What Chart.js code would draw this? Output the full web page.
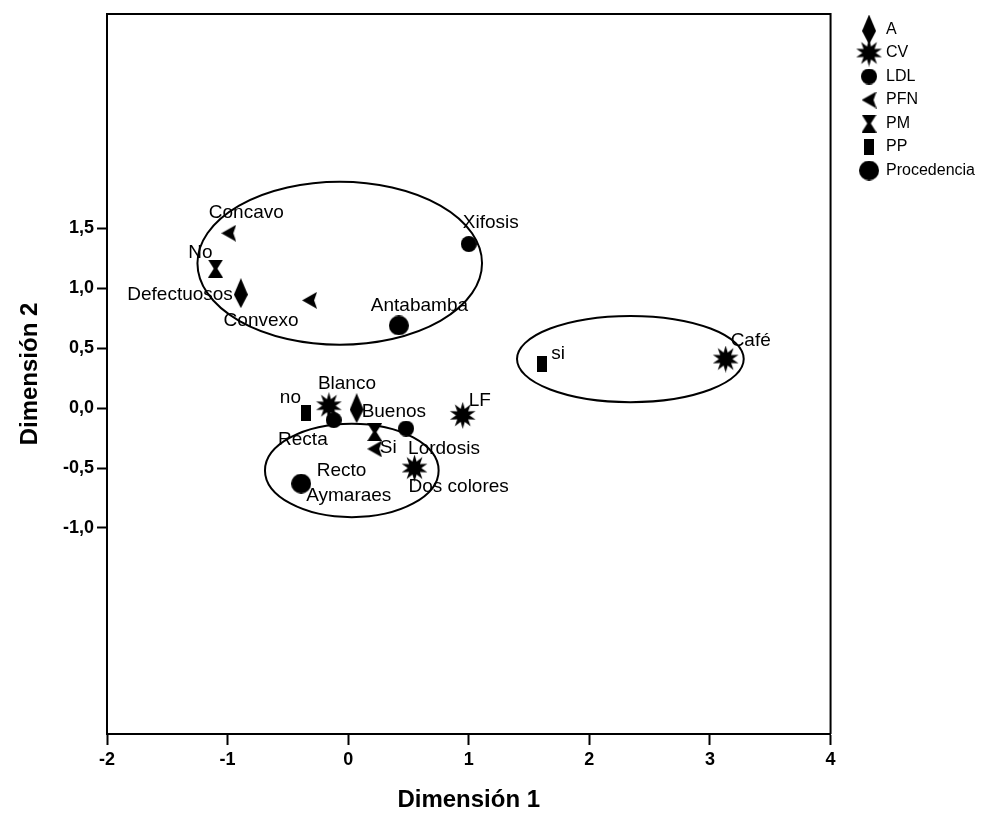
<!DOCTYPE html>
<html><head><meta charset="utf-8">
<script src="https://cdn.jsdelivr.net/npm/chart.js@4.4.0/dist/chart.umd.min.js"></script>
<style>html,body{margin:0;padding:0;background:#fff;}#wrap{width:1000px;height:815px;}</style>
</head><body><div id="wrap"><canvas id="c" width="1000" height="815"></canvas></div>
<script>
// ---- data ----
const seriesNames = ['A', 'CV', 'LDL', 'PFN', 'PM', 'PP', 'Procedencia'];

const A_labels = ['Defectuosos', 'Buenos'];
const A_x = [-0.89, 0.07];
const A_y = [0.96, 0.00];

const CV_labels = ['Blanco', 'LF', 'Dos colores', 'Café'];
const CV_x = [-0.16, 0.95, 0.55, 3.13];
const CV_y = [0.02, -0.06, -0.50, 0.41];

const LDL_labels = ['Xifosis', 'Recta', 'Lordosis'];
const LDL_x = [1.00, -0.12, 0.48];
const LDL_y = [1.37, -0.10, -0.17];

const PFN_labels = ['Concavo', 'Convexo', 'Recto'];
const PFN_x = [-0.99, -0.32, 0.22];
const PFN_y = [1.46, 0.90, -0.34];

const PM_labels = ['No', 'Si'];
const PM_x = [-1.10, 0.22];
const PM_y = [1.165, -0.20];

const PP_labels = ['no', 'si'];
const PP_x = [-0.35, 1.61];
const PP_y = [-0.04, 0.37];

const Proc_labels = ['Antabamba', 'Aymaraes'];
const Proc_x = [0.42, -0.39];
const Proc_y = [0.69, -0.63];

const xTickValues = [-2, -1, 0, 1, 2, 3, 4];
const yTickValues = [-1, -0.5, 0, 0.5, 1, 1.5];

// grouping ellipses (data units)
const ellipseCx = [-0.07, 2.34, 0.03];
const ellipseCy = [1.21, 0.41, -0.52];
const ellipseRx = [1.18, 0.94, 0.72];
const ellipseRy = [0.68, 0.36, 0.39];

// ---- label placement (pixel offsets from point, alignment) ----
const labelPlacement = {
  'Defectuosos': [-8, 2, 'right'], 'Buenos': [5, 4, 'left'],
  'Blanco': [-11, -22, 'left'], 'LF': [6, -15, 'left'], 'Dos colores': [-6, 19, 'left'], 'Café': [5, -18, 'left'],
  'Xifosis': [-6, -21, 'left'], 'Recta': [-6, 20, 'right'], 'Lordosis': [2, 20, 'left'],
  'Concavo': [-20, -20, 'left'], 'Convexo': [-86, 20, 'left'], 'Recto': [-58, 22, 'left'],
  'No': [-3, -16, 'right'], 'Si': [5, 16, 'left'],
  'no': [-5, -15, 'right'], 'si': [9, -10, 'left'],
  'Antabamba': [-28, -20, 'left'], 'Aymaraes': [5, 12, 'left']
};

// ---- marker images ----
function mk(w, h, draw) {
  const c = document.createElement('canvas'); c.width = w; c.height = h;
  const g = c.getContext('2d'); g.fillStyle = '#000'; g.beginPath(); draw(g, w, h); g.fill(); return c;
}
const mDiamond = mk(14, 30, (g, w, h) => { g.moveTo(w/2, 0); g.lineTo(w, h*0.55); g.lineTo(w/2, h); g.lineTo(0, h*0.55); g.closePath(); });
const mBurst = mk(27, 27, (g, w, h) => {
  const n = 10, ro = w/2, ri = w/2*0.5;
  for (let i = 0; i < n*2; i++) { const r = i % 2 ? ri : ro; const a = Math.PI*i/n - Math.PI/2;
    const px = w/2 + r*Math.cos(a), py = h/2 + r*Math.sin(a); i ? g.lineTo(px, py) : g.moveTo(px, py); }
  g.closePath();
});
const mCircleS = mk(16, 16, (g, w, h) => { g.arc(w/2, h/2, w/2, 0, Math.PI*2); });
const mTriLeft = mk(15, 17, (g, w, h) => { g.moveTo(0, h/2); g.lineTo(w, 0); g.lineTo(w*0.8, h/2); g.lineTo(w, h); g.closePath(); });
const mHour = mk(15, 18, (g, w, h) => { g.moveTo(0, 0); g.lineTo(w, 0); g.lineTo(w*0.62, h/2); g.lineTo(w, h); g.lineTo(0, h); g.lineTo(w*0.38, h/2); g.closePath(); });
const mRect = mk(10, 16, (g, w, h) => { g.rect(0, 0, w, h); });
const mCircleL = mk(20, 20, (g, w, h) => { g.arc(w/2, h/2, w/2, 0, Math.PI*2); });

function pts(xs, ys, labels) { return xs.map((x, i) => ({x: x, y: ys[i], label: labels[i]})); }
function ds(name, xs, ys, labels, style) {
  return { label: name, data: pts(xs, ys, labels), pointStyle: style, backgroundColor: '#000', borderColor: '#000',
           pointRadius: 10, pointHoverRadius: 10, showLine: false };
}

const datasets = [
  ds(seriesNames[0], A_x, A_y, A_labels, mDiamond),
  ds(seriesNames[1], CV_x, CV_y, CV_labels, mBurst),
  ds(seriesNames[2], LDL_x, LDL_y, LDL_labels, mCircleS),
  ds(seriesNames[3], PFN_x, PFN_y, PFN_labels, mTriLeft),
  ds(seriesNames[4], PM_x, PM_y, PM_labels, mHour),
  ds(seriesNames[5], PP_x, PP_y, PP_labels, mRect),
  ds(seriesNames[6], Proc_x, Proc_y, Proc_labels, mCircleL)
];

const extras = {
  id: 'extras',
  beforeDatasetsDraw(chart) {
    const {ctx, scales: {x, y}} = chart;
    ctx.save(); ctx.strokeStyle = '#000'; ctx.lineWidth = 2;
    for (let i = 0; i < ellipseCx.length; i++) {
      const cx = x.getPixelForValue(ellipseCx[i]), cy = y.getPixelForValue(ellipseCy[i]);
      const rx = Math.abs(x.getPixelForValue(ellipseCx[i] + ellipseRx[i]) - cx);
      const ry = Math.abs(y.getPixelForValue(ellipseCy[i] + ellipseRy[i]) - cy);
      ctx.beginPath(); ctx.ellipse(cx, cy, rx, ry, 0, 0, Math.PI*2); ctx.stroke();
    }
    ctx.restore();
  },
  afterDatasetsDraw(chart) {
    const {ctx, chartArea: a} = chart;
    ctx.save();
    ctx.font = '19px "Liberation Sans", Arial, sans-serif'; ctx.fillStyle = '#000'; ctx.textBaseline = 'middle';
    chart.data.datasets.forEach((d, di) => {
      const meta = chart.getDatasetMeta(di);
      meta.data.forEach((el, i) => {
        const lab = d.data[i].label; const p = labelPlacement[lab] || [6, -12, 'left'];
        ctx.textAlign = p[2]; ctx.fillText(lab, el.x + p[0], el.y + p[1]);
      });
    });
    ctx.strokeStyle = '#000'; ctx.lineWidth = 2;
    ctx.beginPath(); ctx.moveTo(a.left, a.top); ctx.lineTo(a.right, a.top); ctx.lineTo(a.right, a.bottom); ctx.stroke();
    ctx.restore();
  }
};

const tickFont = {family: '"Liberation Sans Narrow", "Liberation Sans", Arial, sans-serif', size: 18, weight: 'bold'};

new Chart(document.getElementById('c'), {
  type: 'scatter',
  data: { datasets: datasets },
  plugins: [extras],
  options: {
    responsive: false, animation: false, devicePixelRatio: 1,
    layout: { padding: { top: 14, left: 0, right: 15, bottom: 0 } },
    events: [],
    plugins: {
      tooltip: { enabled: false },
      legend: {
        position: 'right', align: 'start',
        labels: { usePointStyle: true, pointStyleWidth: 18, padding: 7.5, color: '#000',
                  font: { family: '"Liberation Sans", Arial, sans-serif', size: 16 } }
      }
    },
    scales: {
      x: {
        type: 'linear', min: -2, max: 4,
        afterBuildTicks(ax) { ax.ticks = xTickValues.map(v => ({value: v})); },
        afterFit(ax) { ax.height = 81; },
        grid: { drawOnChartArea: false, drawTicks: true, tickLength: 11, tickWidth: 2, tickColor: '#000' },
        border: { display: true, color: '#000', width: 2 },
        ticks: { color: '#000', font: tickFont, padding: 4, callback: v => String(v) },
        title: { display: true, text: 'Dimensión 1', color: '#000', padding: {top: 0, bottom: 0},
                 font: { family: '"Liberation Sans", Arial, sans-serif', size: 24, weight: 'bold' } }
      },
      y: {
        type: 'linear', min: -2.72, max: 3.29,
        afterBuildTicks(ax) { ax.ticks = yTickValues.map(v => ({value: v})); },
        afterFit(ax) { ax.width = 107; },
        grid: { drawOnChartArea: false, drawTicks: true, tickLength: 10, tickWidth: 2, tickColor: '#000' },
        border: { display: true, color: '#000', width: 2 },
        ticks: { color: '#000', font: tickFont, padding: 3, callback: v => v.toFixed(1).replace('.', ',') },
        title: { display: true, text: 'Dimensión 2', color: '#000', padding: {top: 16, bottom: 0},
                 font: { family: '"Liberation Sans", Arial, sans-serif', size: 24, weight: 'bold' } }
      },
      yR: {
        type: 'linear', position: 'right', display: true,
        grid: { display: false }, border: { display: false }, ticks: { display: false },
        afterFit(ax) { ax.width = 22; }
      }
    }
  }
});
</script></body></html>
